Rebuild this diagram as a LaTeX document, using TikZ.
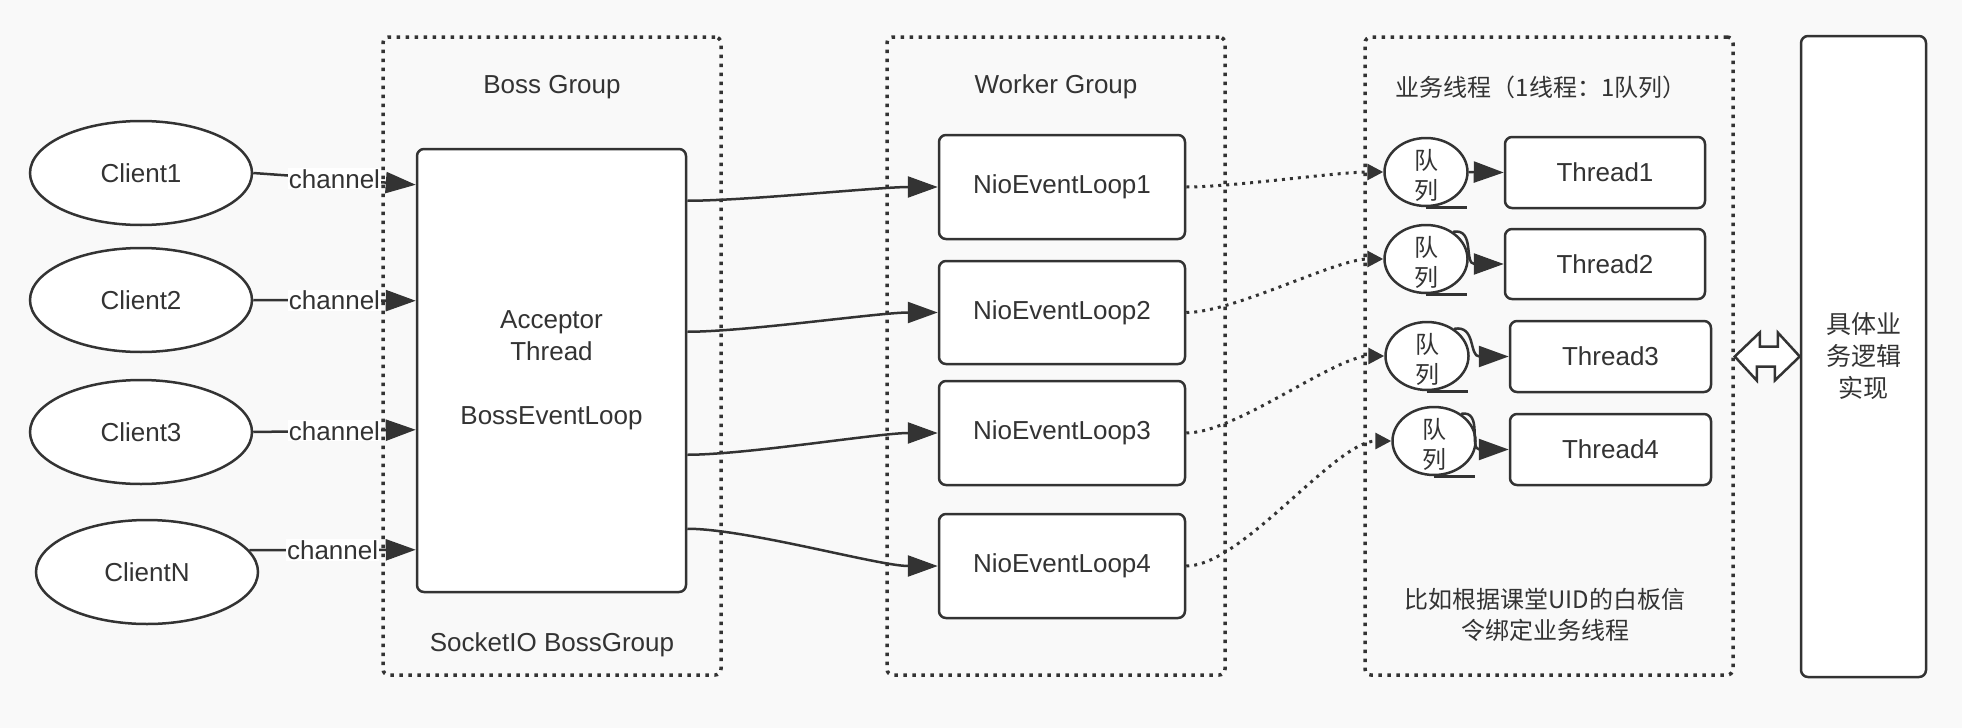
\documentclass[tikz,border=0pt]{standalone}
\usepackage{fontspec}
\setmainfont{Liberation Sans}
\newfontfamily\cjk{Noto Sans CJK SC}
\usetikzlibrary{arrows.meta,shapes.geometric,calc}
\definecolor{ink}{HTML}{333333}
\definecolor{bgc}{HTML}{F9F9F9}
\begin{document}
\begin{tikzpicture}[x=1pt,y=-1pt,
  every node/.style={text=ink, font=\fontsize{26}{32}\selectfont},
  grp/.style={draw=ink, line width=3.5pt, dash pattern=on 3.5pt off 5.5pt, rounded corners=6pt, inner sep=0pt},
  box/.style={draw=ink, fill=white, line width=2.5pt, rounded corners=7pt, inner sep=0pt, align=center},
  client/.style={ellipse, draw=ink, fill=white, line width=2.5pt, minimum width=222pt, minimum height=104pt, inner sep=0pt},
  queue/.style={ellipse, draw=ink, fill=white, line width=2.5pt, minimum width=83pt, minimum height=68pt, inner sep=0pt},
  qtext/.style={font=\cjk\fontsize{24}{30}\selectfont, align=center, inner sep=0pt},
  arr/.style={draw=ink, line width=2.5pt, -{Triangle[length=30pt,width=21pt]}},
  dotarr/.style={draw=ink, line width=3pt, dash pattern=on 3pt off 5pt, -{Triangle[length=16pt,width=16pt]}},
  chan/.style={fill=white, inner sep=1pt},
]
\useasboundingbox (0,0) rectangle (1962,728);
\fill[bgc] (0,0) rectangle (1962,728);

% groups
\node[grp, minimum width=338pt, minimum height=638pt] (boss) at (552,356) {};
\node[grp, minimum width=338pt, minimum height=638pt] (worker) at (1056,356) {};
\node[grp, minimum width=368pt, minimum height=638pt] (biz) at (1549,356) {};

\node (bosst) at (552,87) {Boss Group};
\node (sockt) at (552,645) {SocketIO BossGroup};
\node (workt) at (1056,87) {Worker Group};
\node[font=\cjk\fontsize{24}{30}\selectfont] (bizt) at (1541,87) {业务线程（1线程：1队列）};
\node[font=\cjk\fontsize{24}{31}\selectfont, align=center] (bizb) at (1545,614.5) {比如根据课堂UID的白板信\\令绑定业务线程};

% clients
\node[client] (c1) at (141,173) {Client1};
\node[client] (c2) at (141,300) {Client2};
\node[client] (c3) at (141,432) {Client3};
\node[client] (cN) at (147,572) {ClientN};

% acceptor
\node[box, minimum width=269pt, minimum height=443pt] (acc) at (551.5,370.5) {Acceptor\\Thread\\~\\BossEventLoop};

% nio loops
\node[box, minimum width=246pt, minimum height=104pt] (n1) at (1062,187) {NioEventLoop1};
\node[box, minimum width=246pt, minimum height=103pt] (n2) at (1062,312.5) {NioEventLoop2};
\node[box, minimum width=246pt, minimum height=104pt] (n3) at (1062,433) {NioEventLoop3};
\node[box, minimum width=246pt, minimum height=104pt] (n4) at (1062,566) {NioEventLoop4};

% queues
\node[queue] (q1) at (1426,172) {};
\node[queue] (q2) at (1426,259) {};
\node[queue] (q3) at (1427,356) {};
\node[queue] (q4) at (1434,441) {};
\foreach \q in {q1,q2,q3,q4}{
  \node[qtext] at ($(\q.center)+(0,3)$) {队\\列};
  \draw[draw=ink, line width=2.5pt] (\q.south) -- ++(41,0);
}

% threads
\node[box, minimum width=200pt, minimum height=71pt] (t1) at (1605,172.5) {Thread1};
\node[box, minimum width=200pt, minimum height=70pt] (t2) at (1605,264) {Thread2};
\node[box, minimum width=201pt, minimum height=71pt] (t3) at (1610.5,356.5) {Thread3};
\node[box, minimum width=201pt, minimum height=71pt] (t4) at (1610.5,449.5) {Thread4};

% right box
\node[box, minimum width=125pt, minimum height=641pt, font=\cjk\fontsize{25}{32}\selectfont] (rb) at (1863.5,356.5) {具体业\\务逻辑\\实现};

% client -> acceptor
\draw[arr] (c1.east) -- node[chan] {channel} ($(acc.north west)+(0,37)$);
\draw[arr] (c2.east) -- node[chan] {channel} ($(acc.north west)+(0,153)$);
\draw[arr] (c3.east) -- node[chan] {channel} ($(acc.north west)+(0,282)$);
\draw[arr] (cN.12) -- node[chan] {channel} ($(acc.north west)+(0,402)$);

% acceptor -> nio
\draw[arr] ($(acc.north east)+(0,53)$) to[out=0,in=180,looseness=0.6] (n1.west);
\draw[arr] ($(acc.north east)+(0,184)$) to[out=0,in=180,looseness=0.6] (n2.west);
\draw[arr] ($(acc.north east)+(0,307)$) to[out=0,in=180,looseness=0.6] (n3.west);
\draw[arr] ($(acc.north east)+(0,381)$) to[out=0,in=180,looseness=0.6] (n4.west);

% nio -> queues
\draw[dotarr] (n1.east) to[out=0,in=180,looseness=0.6] (q1.west);
\draw[dotarr] (n2.east) to[out=0,in=180,looseness=0.6] (q2.west);
\draw[dotarr] (n3.east) to[out=0,in=180,looseness=0.6] (q3.west);
\draw[dotarr] (n4.east) to[out=0,in=180,looseness=0.6] (q4.west);

% queues -> threads
\draw[arr] (q1.east) -- (t1.west);
\draw[arr] (q2.45) .. controls +(22,-4) and +(-40,0) .. (t2.west);
\draw[arr] (q3.45) .. controls +(22,-4) and +(-40,0) .. (t3.west);
\draw[arr] (q4.45) .. controls +(22,-4) and +(-40,0) .. (t4.west);

% double hollow arrow
\coordinate (dl) at (biz.east |- rb.center);
\draw[draw=ink, fill=white, line width=2.5pt, line join=miter]
  (dl) -- ++(25,-24) -- ++(0,14) -- ++(18,0) -- ++(0,-14) -- (rb.west)
  -- ++(-25,24) -- ++(0,-14) -- ++(-18,0) -- ++(0,14) -- cycle;
\end{tikzpicture}
\end{document}
